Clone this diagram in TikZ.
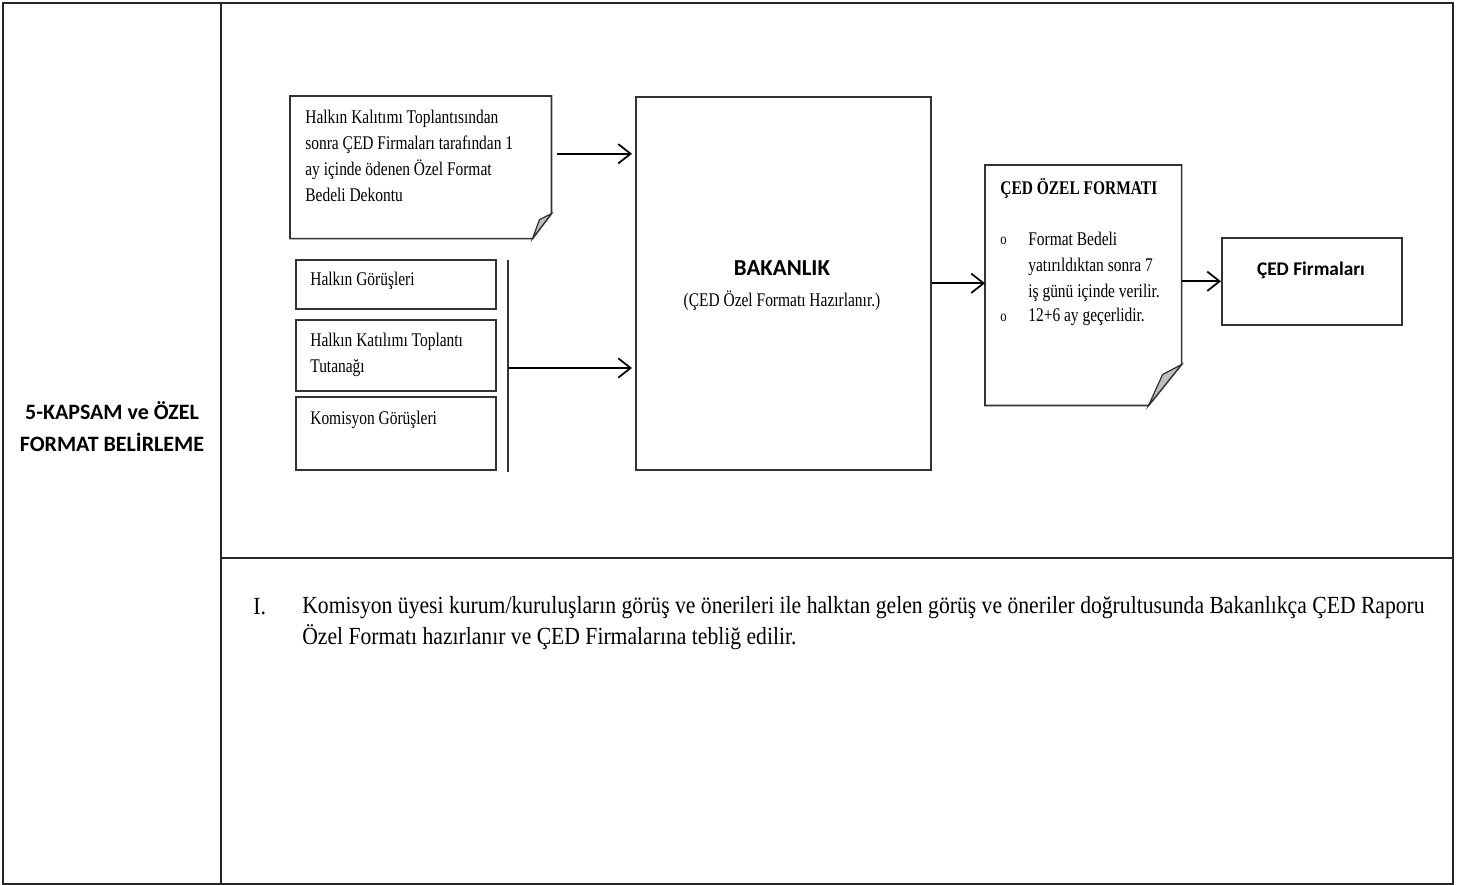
\documentclass[tikz,border=0pt]{standalone}
\usepackage{fontspec}
\setmainfont{Liberation Serif}[FakeStretch=0.8]
\newfontfamily\genis{Liberation Serif}[FakeStretch=0.88]
\newfontfamily\calibri{Carlito}
\usetikzlibrary{arrows.meta}

\begin{document}
\begin{tikzpicture}[x=0.02cm,y=-0.02cm]
    % Define block styles
    \tikzstyle{frame} = [line width=0.8pt, draw=black!85]
    \tikzstyle{box} = [rectangle, draw=black!80, line width=0.9pt, anchor=north west, inner sep=0pt]
    \tikzstyle{txt} = [anchor=west, inner sep=0pt, align=left, font=\fontsize{11}{14.75}\selectfont]
    \tikzstyle{arrow} = [line width=1pt, -{Straight Barb[length=7pt,width=11pt]}]
    \tikzstyle{fold} = [fill=black!25, draw=black!80, line width=0.7pt]

    \useasboundingbox (0,0) rectangle (1461,885);

    % Table frame
    \draw[frame] (3,3) rectangle (1453,884);
    \draw[frame] (221,3) -- (221,884);
    \draw[frame] (221,558) -- (1453,558);
    \node (baslik) [align=center, font=\calibri\bfseries\fontsize{12.5}{18.1}\selectfont] at (112,427) {5-KAPSAM ve ÖZEL\\FORMAT BELİRLEME};

    % Draw nodes
    \node (dekont) [box, draw=none, minimum width=5.2cm, minimum height=2.82cm] at (290,96) {};
    \draw[line width=0.9pt, draw=black!80] (dekont.north west) -- (dekont.north east) -- ([yshift=0.5cm]dekont.south east) -- ([xshift=-0.38cm]dekont.south east) -- (dekont.south west) -- cycle;
    \filldraw[fold] ([yshift=0.5cm]dekont.south east) -- ([xshift=-0.24cm,yshift=0.38cm]dekont.south east) -- ([xshift=-0.38cm]dekont.south east) -- cycle;
    \node (dekonttxt) [txt, anchor=north west] at (305,110) {Halkın Kalıtımı Toplantısından\\sonra ÇED Firmaları tarafından 1\\ay içinde ödenen Özel Format\\Bedeli Dekontu};

    \node (gorus) [box, minimum width=4cm, minimum height=0.98cm] at (295,259) {};
    \node (tutanak) [box, minimum width=4cm, minimum height=1.42cm] at (295,319) {};
    \node (komisyon) [box, minimum width=4cm, minimum height=1.46cm] at (295,396) {};
    \node (gorustxt) [txt] at (310,281) {Halkın Görüşleri};
    \node (tutanaktxt) [txt, anchor=north west] at (310,333) {Halkın Katılımı Toplantı\\Tutanağı};
    \node (komisyontxt) [txt] at (310,420) {Komisyon Görüşleri};

    \coordinate (bartop) at (508,260);
    \coordinate (barbot) at (508,472);
    \coordinate (barmid) at (508,368);
    \draw[line width=0.9pt, draw=black!80] (bartop) -- (barbot);

    \node (bakanlik) [box, minimum width=5.9cm, minimum height=7.46cm] at (635,96) {};
    \node (bakanliktxt) [inner sep=0pt, font=\calibri\bfseries\fontsize{13}{16}\selectfont] at (782,268) {BAKANLIK};
    \node (bakanlikalt) [inner sep=0pt, font=\fontsize{11}{14}\selectfont] at (782,301) {(ÇED Özel Formatı Hazırlanır.)};

    \node (format) [box, draw=none, minimum width=3.9cm, minimum height=4.78cm] at (985,165) {};
    \draw[line width=0.9pt, draw=black!80] (format.north west) -- (format.north east) -- ([yshift=0.82cm]format.south east) -- ([xshift=-0.66cm]format.south east) -- (format.south west) -- cycle;
    \filldraw[fold] ([yshift=0.82cm]format.south east) -- ([xshift=-0.38cm,yshift=0.62cm]format.south east) -- ([xshift=-0.66cm]format.south east) -- cycle;
    \node (formattxt) [txt, font=\bfseries\fontsize{11}{14}\selectfont] at (1000,188) {ÇED ÖZEL FORMATI};
    \node (madde1o) [txt, font=\fontsize{9}{10}\selectfont] at (1000,241) {o};
    \node (madde1) [txt, anchor=north west] at (1028,232) {Format Bedeli\\yatırıldıktan sonra 7\\iş günü içinde verilir.};
    \node (madde2o) [txt, font=\fontsize{9}{10}\selectfont] at (1000,318) {o};
    \node (madde2) [txt] at (1028,317) {12+6 ay geçerlidir.};

    \node (firmalar) [box, minimum width=3.6cm, minimum height=1.74cm] at (1221,237) {};
    \node (firmalartxt) [inner sep=0pt, font=\calibri\bfseries\fontsize{11}{14}\selectfont] at (1311,270) {ÇED Firmaları};

    % Draw edges
    \coordinate (dekontcikis) at ([yshift=0.27cm]dekont.east);
    \draw[arrow, shorten <=0.1cm, shorten >=0.06cm] (dekontcikis) -- (dekontcikis -| bakanlik.west);
    \draw[arrow, shorten >=0.06cm] (barmid) -- (barmid -| bakanlik.west);
    \draw[arrow] (bakanlik.east) -- (bakanlik.east -| format.west);
    \draw[arrow] (format.east |- firmalar.west) -- (firmalar.west);

    % Description
    \node (roman) [txt, font=\genis\fontsize{14}{17.6}\selectfont] at (253,607) {I.};
    \node (aciklama) [txt, anchor=north west, font=\genis\fontsize{14}{17.6}\selectfont] at (302,596) {Komisyon üyesi kurum/kuruluşların görüş ve önerileri ile halktan gelen görüş ve öneriler doğrultusunda Bakanlıkça ÇED Raporu\\Özel Formatı hazırlanır ve ÇED Firmalarına tebliğ edilir.};
\end{tikzpicture}
\end{document}
